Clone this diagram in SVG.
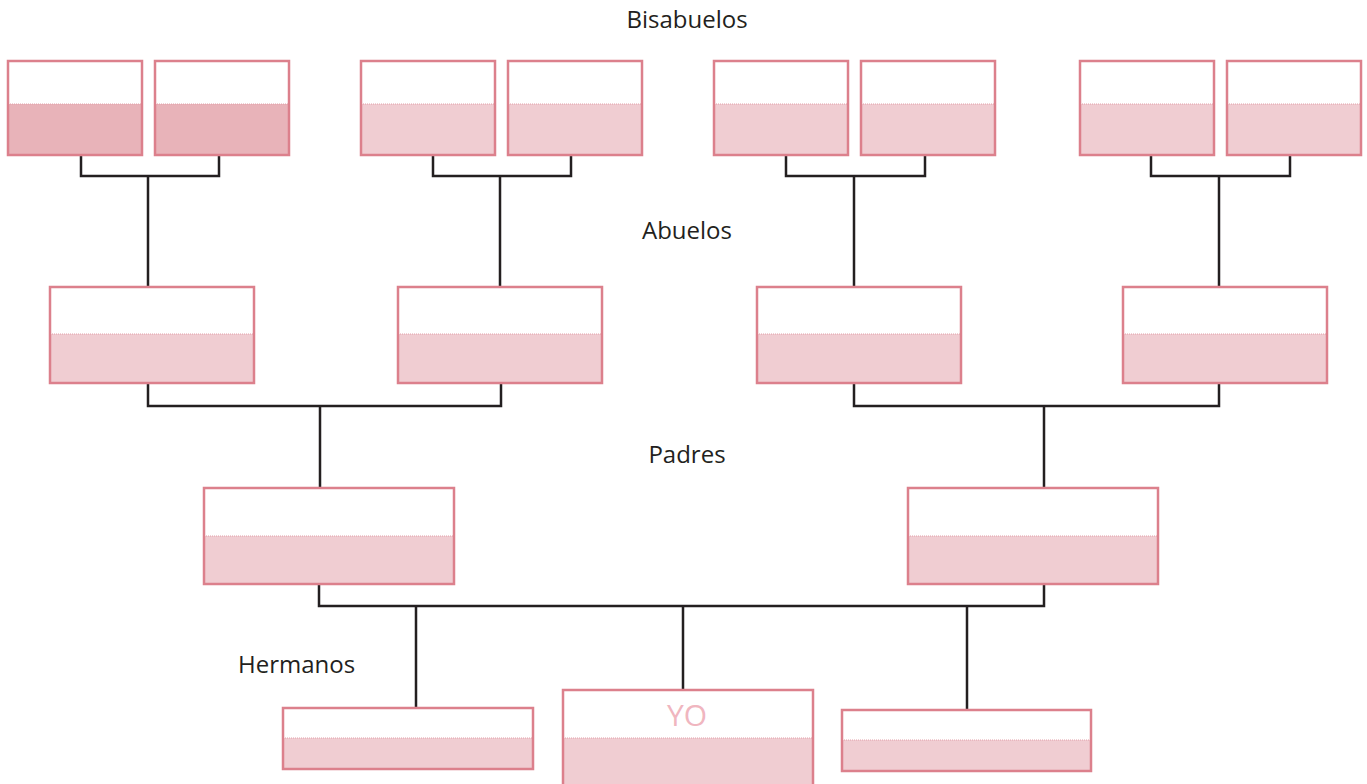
<svg xmlns="http://www.w3.org/2000/svg" width="1367" height="784" viewBox="0 0 1367 784">
<style>
.top{fill:#ffffff}
.bot{fill:#f0cdd2}
.bot.dark{fill:#e8b3b9}
.frame{fill:none;stroke:#dc808c;stroke-width:2.5}
.div{stroke:#e2a0a9;stroke-width:1;stroke-dasharray:1 1}
.conn{fill:none;stroke:#231f20;stroke-width:2.5}
.lbl{font-family:"Open Sans","Noto Sans",sans-serif;font-size:24px;fill:#231f20}
.yo{font-family:"Open Sans","Noto Sans",sans-serif;font-size:30px;fill:#f0b6bf}
</style>
<rect width="1367" height="784" fill="#ffffff"/>
<g id="labels">
<text class="lbl" x="687" y="28" text-anchor="middle">Bisabuelos</text>
<text class="lbl" x="687" y="239" text-anchor="middle">Abuelos</text>
<text class="lbl" x="687" y="463" text-anchor="middle">Padres</text>
<text class="lbl" x="238" y="673">Hermanos</text>
</g>
<g id="connectors">
<path class="conn" d="M81 155V176H219V155M148 176V287"/>
<path class="conn" d="M433 155V176H571V155M500 176V287"/>
<path class="conn" d="M786 155V176H925V155M854 176V287"/>
<path class="conn" d="M1151 155V176H1290V155M1219 176V287"/>
<path class="conn" d="M148 383V406H501V383M320 406V488"/>
<path class="conn" d="M854 383V406H1219V383M1044 406V488"/>
<path class="conn" d="M319 584V606H1044V584M416 606V708M683 606V690M967 606V710"/>
</g>
<g id="bisabuelo1"><rect class="top" x="8" y="61" width="134" height="43"/><rect class="bot dark" x="8" y="104" width="134" height="51"/><line class="div" x1="8" y1="104" x2="142" y2="104"/><rect class="frame" x="8" y="61" width="134" height="94"/></g>
<g id="bisabuelo2"><rect class="top" x="155" y="61" width="134" height="43"/><rect class="bot dark" x="155" y="104" width="134" height="51"/><line class="div" x1="155" y1="104" x2="289" y2="104"/><rect class="frame" x="155" y="61" width="134" height="94"/></g>
<g id="bisabuelo3"><rect class="top" x="361" y="61" width="134" height="43"/><rect class="bot" x="361" y="104" width="134" height="51"/><line class="div" x1="361" y1="104" x2="495" y2="104"/><rect class="frame" x="361" y="61" width="134" height="94"/></g>
<g id="bisabuelo4"><rect class="top" x="508" y="61" width="134" height="43"/><rect class="bot" x="508" y="104" width="134" height="51"/><line class="div" x1="508" y1="104" x2="642" y2="104"/><rect class="frame" x="508" y="61" width="134" height="94"/></g>
<g id="bisabuelo5"><rect class="top" x="714" y="61" width="134" height="43"/><rect class="bot" x="714" y="104" width="134" height="51"/><line class="div" x1="714" y1="104" x2="848" y2="104"/><rect class="frame" x="714" y="61" width="134" height="94"/></g>
<g id="bisabuelo6"><rect class="top" x="861" y="61" width="134" height="43"/><rect class="bot" x="861" y="104" width="134" height="51"/><line class="div" x1="861" y1="104" x2="995" y2="104"/><rect class="frame" x="861" y="61" width="134" height="94"/></g>
<g id="bisabuelo7"><rect class="top" x="1080" y="61" width="134" height="43"/><rect class="bot" x="1080" y="104" width="134" height="51"/><line class="div" x1="1080" y1="104" x2="1214" y2="104"/><rect class="frame" x="1080" y="61" width="134" height="94"/></g>
<g id="bisabuelo8"><rect class="top" x="1227" y="61" width="134" height="43"/><rect class="bot" x="1227" y="104" width="134" height="51"/><line class="div" x1="1227" y1="104" x2="1361" y2="104"/><rect class="frame" x="1227" y="61" width="134" height="94"/></g>
<g id="abuelo1"><rect class="top" x="50" y="287" width="204" height="47"/><rect class="bot" x="50" y="334" width="204" height="49"/><line class="div" x1="50" y1="334" x2="254" y2="334"/><rect class="frame" x="50" y="287" width="204" height="96"/></g>
<g id="abuelo2"><rect class="top" x="398" y="287" width="204" height="47"/><rect class="bot" x="398" y="334" width="204" height="49"/><line class="div" x1="398" y1="334" x2="602" y2="334"/><rect class="frame" x="398" y="287" width="204" height="96"/></g>
<g id="abuelo3"><rect class="top" x="757" y="287" width="204" height="47"/><rect class="bot" x="757" y="334" width="204" height="49"/><line class="div" x1="757" y1="334" x2="961" y2="334"/><rect class="frame" x="757" y="287" width="204" height="96"/></g>
<g id="abuelo4"><rect class="top" x="1123" y="287" width="204" height="47"/><rect class="bot" x="1123" y="334" width="204" height="49"/><line class="div" x1="1123" y1="334" x2="1327" y2="334"/><rect class="frame" x="1123" y="287" width="204" height="96"/></g>
<g id="padre1"><rect class="top" x="204" y="488" width="250" height="48"/><rect class="bot" x="204" y="536" width="250" height="48"/><line class="div" x1="204" y1="536" x2="454" y2="536"/><rect class="frame" x="204" y="488" width="250" height="96"/></g>
<g id="padre2"><rect class="top" x="908" y="488" width="250" height="48"/><rect class="bot" x="908" y="536" width="250" height="48"/><line class="div" x1="908" y1="536" x2="1158" y2="536"/><rect class="frame" x="908" y="488" width="250" height="96"/></g>
<g id="hermano1"><rect class="top" x="283" y="708" width="250" height="30"/><rect class="bot" x="283" y="738" width="250" height="31"/><line class="div" x1="283" y1="738" x2="533" y2="738"/><rect class="frame" x="283" y="708" width="250" height="61"/></g>
<g id="yo"><rect class="top" x="563" y="690" width="250" height="48"/><rect class="bot" x="563" y="738" width="250" height="50"/><line class="div" x1="563" y1="738" x2="813" y2="738"/><rect class="frame" x="563" y="690" width="250" height="100"/><text class="yo" x="687" y="726" text-anchor="middle">YO</text></g>
<g id="hermano2"><rect class="top" x="842" y="710" width="249" height="30"/><rect class="bot" x="842" y="740" width="249" height="31"/><line class="div" x1="842" y1="740" x2="1091" y2="740"/><rect class="frame" x="842" y="710" width="249" height="61"/></g>
</svg>
